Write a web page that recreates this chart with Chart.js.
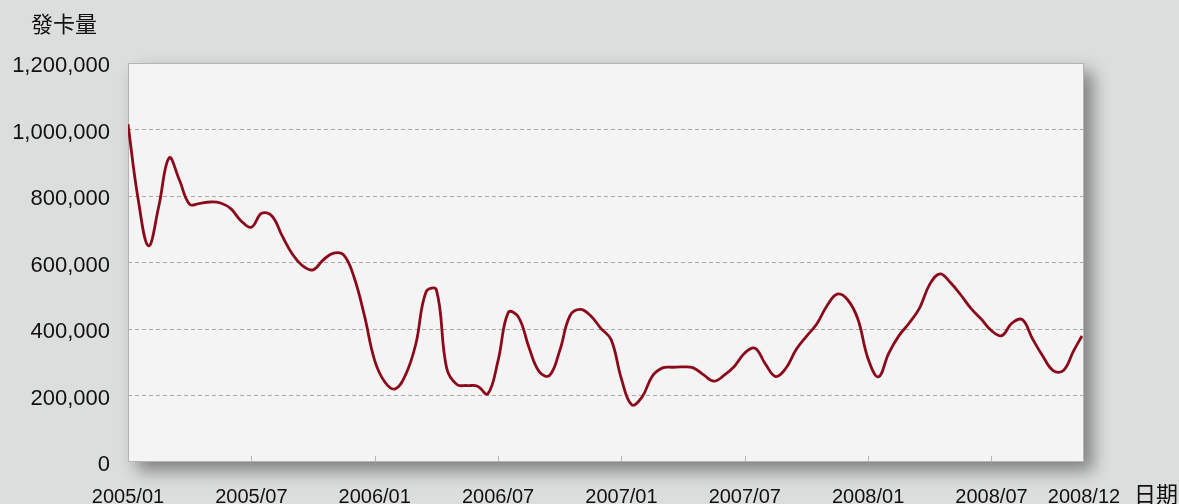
<!DOCTYPE html>
<html>
<head>
<meta charset="utf-8">
<script src="https://cdn.jsdelivr.net/npm/chart.js@4"></script>
<style>
  html, body { margin: 0; padding: 0; background: #dcdedd; }
  #wrap { width: 1179px; height: 504px; }
</style>
</head>
<body>
<div id="wrap"><canvas id="chart" width="1179" height="504"></canvas></div>
<script>
"use strict";

// month offsets from 2005/01 (half-month readings)
var months = [
  0, 0.5, 1, 1.5, 2, 2.5, 3, 3.5, 4, 4.5, 5, 5.5, 6, 6.5, 7, 7.5, 8, 8.5, 9, 9.5,
  10, 10.5, 11, 11.5, 12, 12.5, 13, 13.5, 14, 14.5, 15, 15.5, 16, 16.5, 17, 17.5, 18, 18.5, 19, 19.5,
  20, 20.5, 21, 21.5, 22, 22.5, 23, 23.5, 24, 24.5, 25, 25.5, 26, 26.5, 27, 27.5, 28, 28.5, 29, 29.5,
  30, 30.5, 31, 31.5, 32, 32.5, 33, 33.5, 34, 34.5, 35, 35.5, 36, 36.5, 37, 37.5, 38, 38.5, 39, 39.5,
  40, 40.5, 41, 41.5, 42, 42.5, 43, 43.5, 44, 44.5, 45, 45.5, 46, 46.4
];

// 發卡量
var cards = [
  1016000, 788000, 650000, 770000, 915000, 848000, 775000, 778000, 782000, 779000,
  762000, 725000, 706000, 748000, 740000, 680000, 625000, 590000, 578000, 608000,
  628000, 622000, 555000, 440000, 305000, 240000, 220000, 262000, 355000, 512000,
  518000, 282000, 233000, 230000, 228000, 205000, 305000, 450000, 435000, 345000,
  272000, 260000, 335000, 440000, 459000, 440000, 402000, 368000, 250000, 172000,
  195000, 258000, 283000, 285000, 286000, 283000, 262000, 243000, 261000, 288000,
  328000, 342000, 295000, 257000, 282000, 338000, 378000, 415000, 470000, 505000,
  488000, 430000, 310000, 256000, 327000, 380000, 418000, 463000, 535000, 566000,
  540000, 503000, 462000, 430000, 395000, 380000, 418000, 428000, 370000, 318000,
  275000, 275000, 335000, 379000
];

var tickMonths = [0, 6, 12, 18, 24, 30, 36, 42, 46.5];
var tickLabels = ["2005/01", "2005/07", "2006/01", "2006/07", "2007/01", "2007/07", "2008/01", "2008/07", "2008/12"];

var yTitle = "發卡量";
var xTitle = "日期";


// plot frame, shadow, tick marks and axis titles
var framePlugin = {
    id: "frame",
    beforeDraw: function (chart) {
        var ctx = chart.ctx, a = chart.chartArea;
        ctx.save();
        ctx.fillStyle = "#dcdedd";
        ctx.fillRect(0, 0, chart.width, chart.height);
        ctx.shadowColor = "rgba(0,0,0,0.42)";
        ctx.shadowBlur = 16;
        ctx.shadowOffsetX = 9;
        ctx.shadowOffsetY = 9;
        ctx.fillStyle = "#f4f4f4";
        ctx.fillRect(a.left, a.top, a.width, a.height);
        ctx.restore();
    },
    beforeDatasetsDraw: function (chart) {
        var ctx = chart.ctx, a = chart.chartArea, xs = chart.scales.x;
        ctx.save();
        ctx.strokeStyle = "#b4b4b4";
        ctx.lineWidth = 1;
        ctx.strokeRect(a.left + 0.5, a.top + 0.5, a.width - 1, a.height - 1);
        ctx.beginPath();
        tickMonths.forEach(function (m) {
            if (m <= xs.min || m >= xs.max) return;
            var px = Math.round(xs.getPixelForValue(m)) + 0.5;
            ctx.moveTo(px, a.bottom);
            ctx.lineTo(px, a.bottom - 6);
        });
        ctx.stroke();
        ctx.restore();
    },
    afterDraw: function (chart) {
        var ctx = chart.ctx;
        ctx.save();
        ctx.fillStyle = "#111";
        ctx.font = '22px "Noto Sans CJK TC"';
        ctx.textBaseline = "middle";
        ctx.textAlign = "left";
        ctx.fillText(yTitle, 31, 24);
        ctx.fillText(xTitle, 1134, 494);
        ctx.restore();
    }
};


var ctx = document.getElementById("chart").getContext("2d");
var myChart = new Chart(ctx, {
    type: "line",
    data: {
        datasets: [{
            label: yTitle,
            data: months.map(function (m, i) { return {x: m, y: cards[i]}; }),
            borderColor: "#8a0a1c",
            borderWidth: 2.8,
            pointRadius: 0,
            tension: 0.4,
            fill: false
        }]
    },
    options: {
        responsive: false,
        animation: false,
        layout: { padding: { top: 63, right: 95, bottom: 0, left: 0 } },
        plugins: {
            legend: { display: false },
            tooltip: { enabled: false }
        },
        scales: {
            x: {
                type: "linear",
                min: 0,
                max: 46.5,
                grid: { display: false, drawTicks: false },
                border: { display: false },
                afterBuildTicks: function (scale) {
                    scale.ticks = tickMonths.map(function (m) { return {value: m}; });
                },
                afterFit: function (scale) { scale.height = 42; },
                ticks: {
                    autoSkip: false,
                    maxRotation: 0,
                    padding: 23,
                    color: "#111",
                    font: { family: "Liberation Sans", size: 20 },
                    callback: function (v, i) { return tickLabels[i]; }
                }
            },
            y: {
                min: 0,
                max: 1200000,
                grid: {
                    drawTicks: false,
                    color: function (c) {
                        var v = c.tick.value;
                        return (v <= 0 || v >= 1200000) ? "rgba(0,0,0,0)" : "#a8a8a8";
                    }
                },
                border: { display: false, dash: [4, 3] },
                afterFit: function (scale) { scale.width = 128; },
                ticks: {
                    stepSize: 200000,
                    padding: 18,
                    labelOffset: 3,
                    color: "#111",
                    font: { family: "Liberation Sans", size: 22 },
                    callback: function (v) { return v.toLocaleString("en-US"); }
                }
            }
        }
    },
    plugins: [framePlugin]
});
</script>
</body>
</html>
